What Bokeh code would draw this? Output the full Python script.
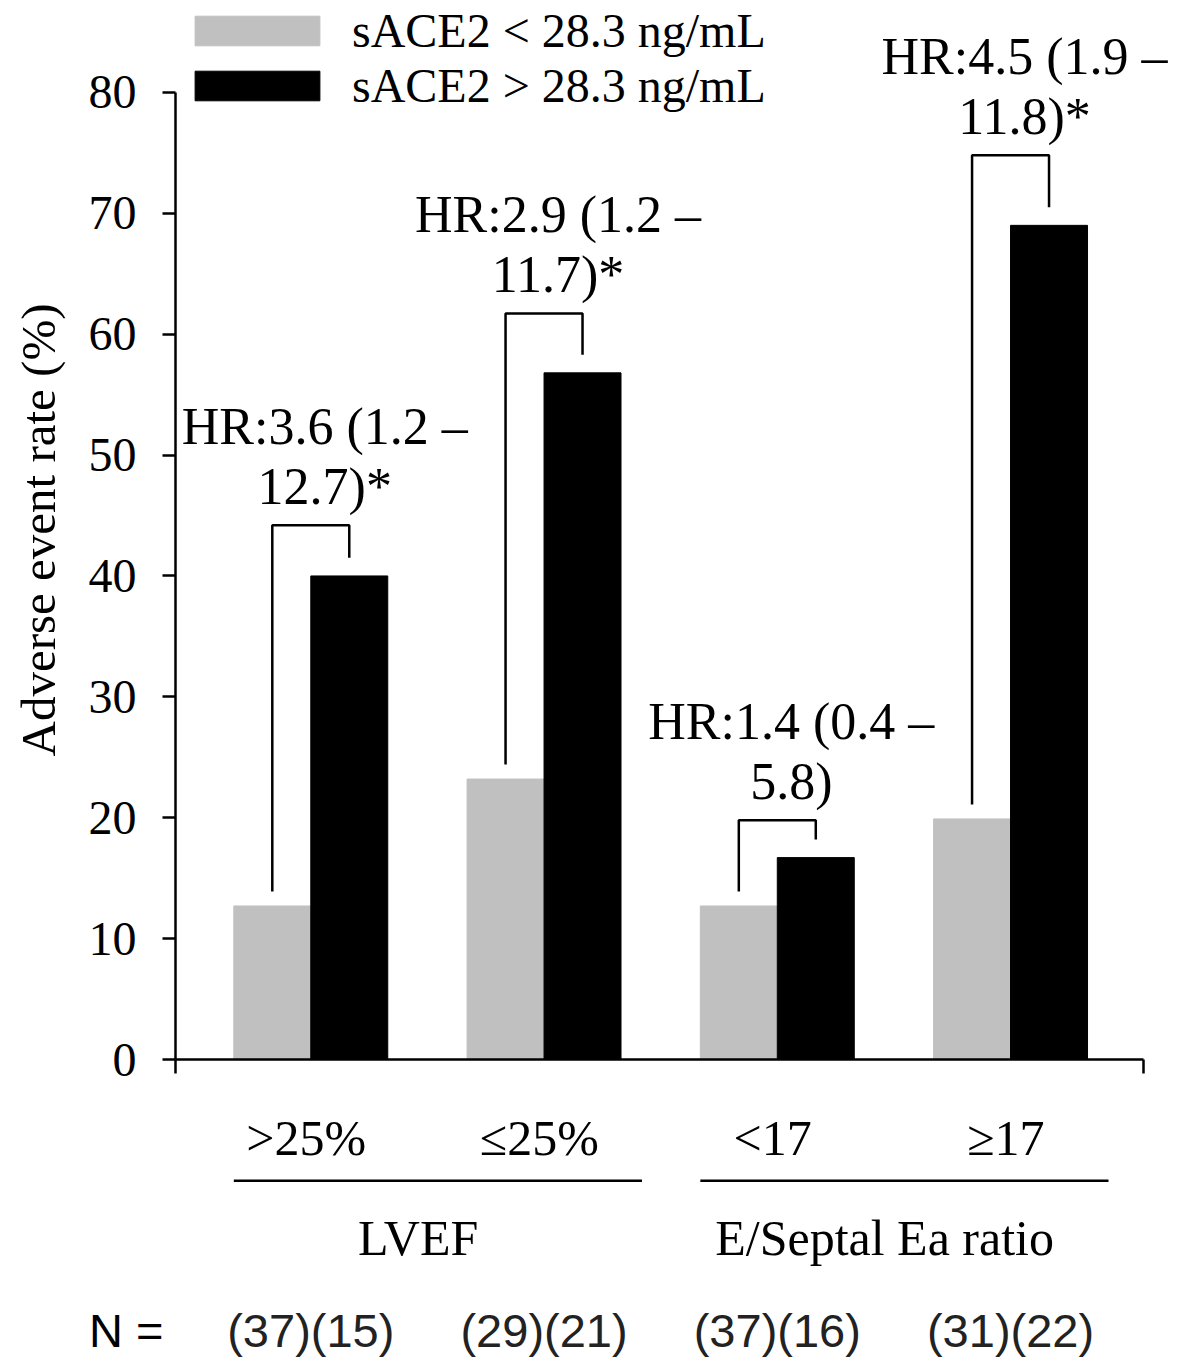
from bokeh.plotting import figure
from bokeh.layouts import column
from bokeh.models import (Range1d, FixedTicker, Legend, LegendItem, CustomJSTickFormatter)
from bokeh.core.properties import value
from bokeh.embed import file_html
from bokeh.resources import INLINE

# ---------------- data ----------------
subgroups = [">25%", "≤25%", "<17", "≥17"]
group_names = ["LVEF", "E/Septal Ea ratio"]
group_members = [[0, 1], [2, 3]]
series = ["sACE2 < 28.3 ng/mL", "sACE2 > 28.3 ng/mL"]
low_rate = [12.7, 23.2, 12.7, 19.9]
high_rate = [40.0, 56.8, 16.7, 69.0]
hr_line1 = ["HR:3.6 (1.2 –", "HR:2.9 (1.2 –", "HR:1.4 (0.4 –", "HR:4.5 (1.9 –"]
hr_line2 = ["12.7)*", "11.7)*", "5.8)", "11.8)*"]
bracket_top = [44.2, 61.7, 19.8, 74.8]
n_low = [37, 29, 37, 31]
n_high = [15, 21, 16, 22]
y_ticks = [0, 10, 20, 30, 40, 50, 60, 70, 80]

SERIF = "Liberation Serif"
SANS = "Liberation Sans"
GRAY = "#c0c0c0"

pos = [i + 1 for i in range(len(subgroups))]
bw = 0.33
x_low = [p - bw / 2 for p in pos]
x_high = [p + bw / 2 for p in pos]

W = 1179
LEFT = 175
AXIS_END_PX = 1143
FRAME_H = 1059
BOTTOM1 = 40
H1 = FRAME_H + BOTTOM1
H2 = 1357 - H1
X0, X1 = 0.42, 4.57                         # x-axis extent
XS = (AXIS_END_PX - LEFT) / (X1 - X0)        # px per x unit
XR = X1 + (W - AXIS_END_PX) / XS             # frame right edge
Y1 = 87.6
YS = FRAME_H / Y1                            # px per y unit

# ---------------- main chart ----------------
p = figure(width=W, height=H1, x_range=Range1d(X0, XR), y_range=Range1d(0, Y1),
           min_border_left=LEFT, min_border_right=0, min_border_top=0,
           min_border_bottom=BOTTOM1, toolbar_location=None, output_backend="svg")
p.outline_line_color = None
p.xgrid.visible = False
p.ygrid.visible = False

r_low = p.vbar(x=x_low, top=low_rate, width=bw, fill_color=GRAY, line_color=GRAY)
r_high = p.vbar(x=x_high, top=high_rate, width=bw, fill_color="black", line_color="black")

# significance brackets
xs, ys = [], []
for i in range(len(pos)):
    xs.append([x_low[i], x_low[i], x_high[i], x_high[i]])
    ys.append([low_rate[i] + 1.2, bracket_top[i], bracket_top[i], high_rate[i] + 1.5])
p.multi_line(xs=xs, ys=ys, line_color="black", line_width=2.5)

# HR annotations
tx = [pp + 0.06 for pp in pos]
y2 = [b + 3.2 for b in bracket_top]
y1 = [v + 5.0 for v in y2]
for yy, tt in ((y1, hr_line1), (y2, hr_line2)):
    p.text(x=tx, y=yy, text=tt, text_font=value(SERIF), text_font_size="52px",
           text_align="center", text_baseline="middle", text_color="black")

# y axis
ya = p.yaxis[0]
ya.ticker = FixedTicker(ticks=y_ticks)
ya.bounds = (0, 80)
ya.major_tick_out = 13
ya.major_tick_in = 0
ya.minor_tick_out = 0
ya.minor_tick_in = 0
ya.axis_line_width = 2.5
ya.major_tick_line_width = 2.5
ya.major_label_standoff = 26
ya.major_label_text_font = SERIF
ya.major_label_text_font_size = "48px"
ya.major_label_text_color = "black"
ya.axis_label = "Adverse event rate (%)"
ya.axis_label_text_font = SERIF
ya.axis_label_text_font_size = "49px"
ya.axis_label_text_font_style = "normal"
ya.axis_label_text_color = "black"
ya.axis_label_standoff = 20

# x axis: plain line with a tick at each end
xa = p.xaxis[0]
xa.bounds = (X0, X1)
xa.ticker = FixedTicker(ticks=[X0, X1])
xa.formatter = CustomJSTickFormatter(code="return ''")
xa.major_tick_out = 14
xa.major_tick_in = 0
xa.minor_tick_out = 0
xa.minor_tick_in = 0
xa.axis_line_width = 2.5
xa.major_tick_line_width = 2.5

# legend
legend = Legend(items=[LegendItem(label=series[0], renderers=[r_low]),
                       LegendItem(label=series[1], renderers=[r_high])],
                location=(4, 946), orientation="vertical")
legend.border_line_color = None
legend.background_fill_alpha = 0
legend.padding = 0
legend.margin = 0
legend.spacing = -6
legend.glyph_width = 156
legend.glyph_height = 37
legend.label_standoff = 17
legend.label_text_font = SERIF
legend.label_text_font_size = "48px"
legend.label_text_color = "black"
p.add_layout(legend)

# ---------------- category / group / N rows below the axis ----------------
yb_top = (FRAME_H - H1) / YS
yb_bot = (FRAME_H - 1357) / YS
CAT_Y, LINE_Y, GROUP_Y, N_Y = -6.47, -10.04, -14.77, -22.4

q = figure(width=W, height=H2, x_range=p.x_range, y_range=Range1d(yb_bot, yb_top),
           min_border_left=LEFT, min_border_right=0, min_border_top=0, min_border_bottom=0,
           toolbar_location=None, output_backend="svg", x_axis_location=None)
q.outline_line_color = None
q.xgrid.visible = False
q.ygrid.visible = False

# the "N =" row title is carried by this plot's (otherwise invisible) y axis
qa = q.yaxis[0]
qa.ticker = FixedTicker(ticks=[N_Y])
qa.formatter = CustomJSTickFormatter(code="return 'N ='")
qa.axis_line_color = None
qa.major_tick_line_color = None
qa.major_tick_out = 0
qa.major_tick_in = 0
qa.minor_tick_out = 0
qa.minor_tick_in = 0
qa.major_label_standoff = 12
qa.major_label_text_font = SANS
qa.major_label_text_font_size = "47px"
qa.major_label_text_color = "black"

cat_x = [pp - 0.02 for pp in pos]
q.text(x=cat_x, y=[CAT_Y] * len(pos), text=subgroups, text_font=value(SERIF),
       text_font_size="50px", text_align="center", text_baseline="middle", text_color="black")

gx0 = [pos[m[0]] - 0.33 for m in group_members]
gx1 = [pos[m[-1]] + 0.42 for m in group_members]
q.segment(x0=gx0, y0=[LINE_Y] * 2, x1=gx1, y1=[LINE_Y] * 2, line_color="black", line_width=2.5)
gcx = [sum(pos[i] for i in m) / len(m) - 0.04 for m in group_members]
q.text(x=gcx, y=[GROUP_Y] * len(gcx), text=group_names, text_font=value(SERIF),
       text_font_size="50px", text_align="center", text_baseline="middle", text_color="black")

n_text = [f"({a})({b})" for a, b in zip(n_low, n_high)]
q.text(x=pos, y=[N_Y] * len(pos), text=n_text, text_font=value(SANS),
       text_font_size="47px", text_align="center", text_baseline="middle", text_color="#222222")

layout = column(p, q, spacing=0)
open("out.html", "w").write(file_html(layout, INLINE))
